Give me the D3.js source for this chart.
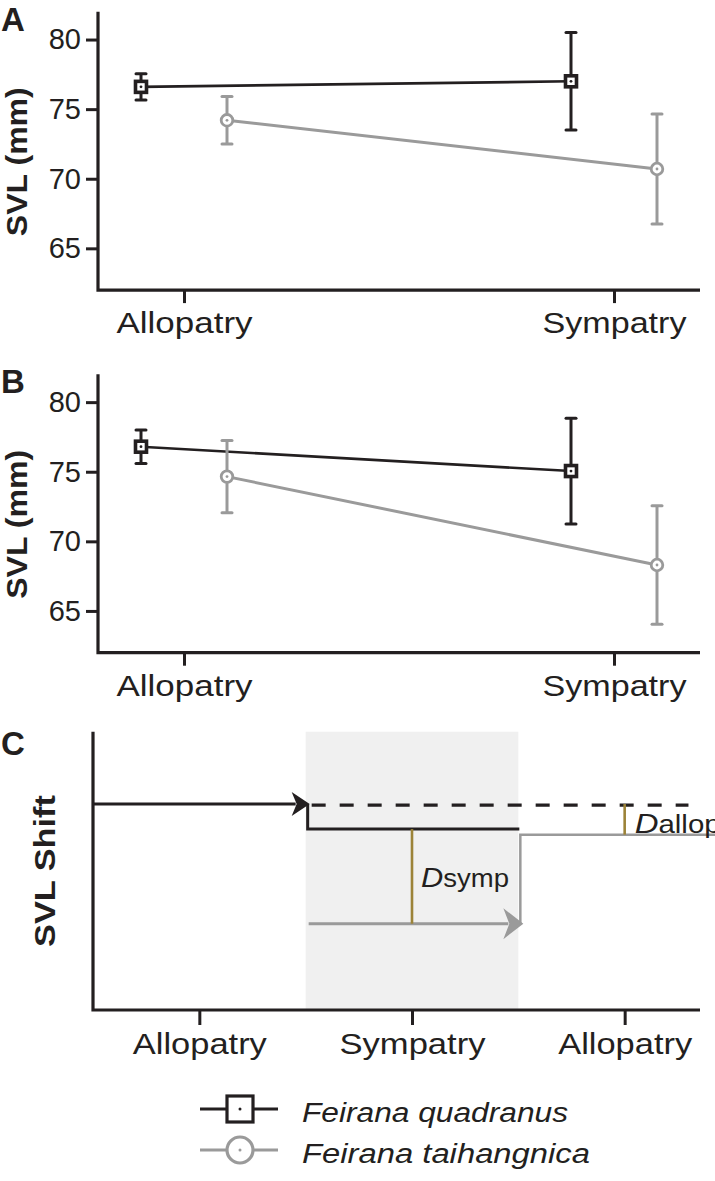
<!DOCTYPE html>
<html>
<head>
<meta charset="utf-8">
<script src="https://cdn.jsdelivr.net/npm/d3@7"></script>
<style>
body { margin: 0; background: #fff; }
text { font-family: "Liberation Sans", Arial, sans-serif; fill: #231f20; }
</style>
</head>
<body>
<div></div>
<script>
let groups = ["Allopatry", "Sympatry"];
let species = ["Feirana quadranus", "Feirana taihangnica"];
let yTicks = [65, 70, 75, 80];

// panel A: mean SVL and error
let meanA_quad = [76.6, 77.0];
let errA_quad = [0.95, 3.5];
let meanA_taih = [74.2, 70.7];
let errA_taih = [1.7, 3.95];

// panel B
let meanB_quad = [76.8, 75.05];
let errB_quad = [1.2, 3.8];
let meanB_taih = [74.65, 68.3];
let errB_taih = [2.6, 4.25];

// panel C (schematic shift)
let shiftGroups = ["Allopatry", "Sympatry", "Allopatry"];
let shiftQuad = [7.4, 6.5];   // allopatric level, sympatric level
let shiftTaih = [3.1, 6.3];   // sympatric level, allopatric level

let black = "#231f20", grey = "#9a9a9a", gold = "#9c8338";

let svg = d3.select("div")
    .append("svg")
    .attr("width", 715)
    .attr("height", 1181);

function drawPanel(top, letter, quad, quadErr, taih, taihErr) {
    let bottom = top + 278.4;
    let axisX = 98;
    let Y = d3.scaleLinear().domain([62, 82]).range([bottom, top]);
    let X = d3.scalePoint().domain(groups).range([184, 614]);
    let dodge = 43;

    let series = [
        { name: species[0], color: black, off: -dodge, shape: "square",
          values: groups.map((g, i) => ({ g: g, m: quad[i], e: quadErr[i] })) },
        { name: species[1], color: grey, off: dodge, shape: "circle",
          values: groups.map((g, i) => ({ g: g, m: taih[i], e: taihErr[i] })) }
    ];

    let g = svg.append("g");

    // axes
    let yAxis = g.append("g")
        .attr("transform", "translate(" + axisX + ",0)")
        .call(d3.axisLeft(Y).tickValues(yTicks).tickSize(12).tickPadding(5));
    let xAxis = g.append("g")
        .attr("transform", "translate(0," + bottom + ")")
        .call(d3.axisBottom(X).tickSize(13).tickPadding(9));
    [yAxis, xAxis].forEach(a => {
        a.select(".domain").remove();
        a.selectAll("line").attr("stroke", black).attr("stroke-width", 3);
    });
    yAxis.selectAll("text").attr("font-size", 29).attr("fill", black);
    xAxis.selectAll("text")
        .attr("font-size", 30)
        .attr("fill", black)
        .attr("textLength", d => d == "Allopatry" ? 136 : 144)
        .attr("lengthAdjust", "spacingAndGlyphs");
    g.append("path")
        .attr("d", "M" + axisX + "," + top + "V" + bottom + "H700")
        .attr("fill", "none")
        .attr("stroke", black)
        .attr("stroke-width", 3.2);

    // y label + panel letter
    g.append("text")
        .attr("transform", "translate(27," + (top + 150) + ") rotate(-90)")
        .attr("text-anchor", "middle")
        .attr("font-size", 29)
        .attr("font-weight", "bold")
        .attr("textLength", 149)
        .attr("lengthAdjust", "spacingAndGlyphs")
        .text("SVL (mm)");
    g.append("text")
        .attr("x", 1)
        .attr("y", top + 19)
        .attr("font-size", 33)
        .attr("font-weight", "bold")
        .text(letter);

    let line = d3.line().x(d => X(d.g)).y(d => Y(d.m));

    series.forEach(s => {
        let sg = g.append("g").attr("transform", "translate(" + s.off + ",0)");
        sg.append("path")
            .attr("d", line(s.values))
            .attr("fill", "none")
            .attr("stroke", s.color)
            .attr("stroke-width", s.shape == "square" ? 2.6 : 3);

        let eb = sg.selectAll(".eb")
            .data(s.values)
            .enter()
            .append("g");
        eb.append("line")
            .attr("x1", d => X(d.g)).attr("x2", d => X(d.g))
            .attr("y1", d => Y(d.m - d.e)).attr("y2", d => Y(d.m + d.e))
            .attr("stroke", s.color).attr("stroke-width", 3);
        [-1, 1].forEach(sign => {
            eb.append("line")
                .attr("x1", d => X(d.g) - 5).attr("x2", d => X(d.g) + 5)
                .attr("y1", d => Y(d.m + sign * d.e)).attr("y2", d => Y(d.m + sign * d.e))
                .attr("stroke", s.color).attr("stroke-width", 3)
                .attr("stroke-linecap", "round");
        });
        if (s.shape == "square") {
            eb.append("rect")
                .attr("x", d => X(d.g) - 5.5).attr("y", d => Y(d.m) - 5.5)
                .attr("width", 11).attr("height", 11)
                .attr("fill", "#fff").attr("stroke", s.color).attr("stroke-width", 3.6);
        } else {
            eb.append("circle")
                .attr("cx", d => X(d.g)).attr("cy", d => Y(d.m))
                .attr("r", 5.8)
                .attr("fill", "#fff").attr("stroke", s.color).attr("stroke-width", 2.8);
        }
        eb.append("circle")
            .attr("cx", d => X(d.g)).attr("cy", d => Y(d.m))
            .attr("r", 1.4)
            .attr("fill", s.color);
    });
}

drawPanel(11.7, "A", meanA_quad, errA_quad, meanA_taih, errA_taih);
drawPanel(374.3, "B", meanB_quad, errB_quad, meanB_taih, errB_taih);

// ---------- panel C ----------
let XC = d3.scaleLinear().domain([0, 3]).range([93, 731]);
let YC = d3.scaleLinear().domain([0, 10]).range([1010, 731.7]);
let gc = svg.append("g");

gc.append("rect")
    .attr("x", XC(1)).attr("y", YC(10))
    .attr("width", XC(2) - XC(1)).attr("height", YC(0) - YC(10))
    .attr("fill", "#f0f0f0");

let xAxisC = gc.append("g")
    .attr("transform", "translate(0," + YC(0) + ")")
    .call(d3.axisBottom(XC).tickValues([0.5, 1.5, 2.5]).tickSize(15).tickPadding(8)
        .tickFormat((d, i) => shiftGroups[i]));
xAxisC.select(".domain").remove();
xAxisC.selectAll("line").attr("stroke", black).attr("stroke-width", 3);
xAxisC.selectAll("text")
    .attr("font-size", 30)
    .attr("fill", black)
    .attr("textLength", (d, i) => i == 1 ? 146 : 134)
    .attr("lengthAdjust", "spacingAndGlyphs");
gc.append("path")
    .attr("d", "M" + XC(0) + "," + YC(10) + "V" + YC(0) + "H700")
    .attr("fill", "none")
    .attr("stroke", black)
    .attr("stroke-width", 3.2);

gc.append("text")
    .attr("transform", "translate(55," + 871 + ") rotate(-90)")
    .attr("text-anchor", "middle")
    .attr("font-size", 30)
    .attr("font-weight", "bold")
    .attr("textLength", 152)
    .attr("lengthAdjust", "spacingAndGlyphs")
    .text("SVL Shift");
gc.append("text")
    .attr("x", 1).attr("y", 755)
    .attr("font-size", 33)
    .attr("font-weight", "bold")
    .text("C");

function arrowHead(tipX, y, len, half, notch, color) {
    gc.append("path")
        .attr("d", "M" + tipX + "," + y +
            "L" + (tipX - len) + "," + (y - half) +
            "L" + (tipX - len + notch) + "," + y +
            "L" + (tipX - len) + "," + (y + half) + "Z")
        .attr("fill", color);
}

// F. quadranus: allopatric level, dashed expectation, sympatric drop
gc.append("line")
    .attr("x1", XC(0)).attr("x2", XC(1) - 10)
    .attr("y1", YC(shiftQuad[0])).attr("y2", YC(shiftQuad[0]))
    .attr("stroke", black).attr("stroke-width", 3);
arrowHead(XC(1) + 4, YC(shiftQuad[0]), 18, 12, 5, black);
gc.append("line")
    .attr("x1", XC(1) + 6).attr("x2", XC(2.8))
    .attr("y1", YC(shiftQuad[0]) + 1).attr("y2", YC(shiftQuad[0]) + 1)
    .attr("stroke", black).attr("stroke-width", 3.2)
    .attr("stroke-dasharray", "14,14");
gc.append("path")
    .attr("d", "M" + (XC(1) + 2) + "," + YC(shiftQuad[0]) + "V" + YC(shiftQuad[1]) + "H" + (XC(2) + 1))
    .attr("fill", "none")
    .attr("stroke", black).attr("stroke-width", 3);

// F. taihangnica: sympatric level then allopatric
gc.append("line")
    .attr("x1", XC(1) + 3).attr("x2", XC(2) - 10)
    .attr("y1", YC(shiftTaih[0])).attr("y2", YC(shiftTaih[0]))
    .attr("stroke", grey).attr("stroke-width", 3);
arrowHead(XC(2) + 5, YC(shiftTaih[0]), 20, 15.5, 6, grey);
gc.append("path")
    .attr("d", "M" + (XC(2) + 2) + "," + YC(shiftTaih[0]) + "V" + YC(shiftTaih[1]) + "H" + XC(2.94))
    .attr("fill", "none")
    .attr("stroke", grey).attr("stroke-width", 2.5);

// distances
gc.append("line")
    .attr("x1", XC(1.5)).attr("x2", XC(1.5))
    .attr("y1", YC(shiftQuad[1])).attr("y2", YC(shiftTaih[0]))
    .attr("stroke", gold).attr("stroke-width", 2.6);
gc.append("line")
    .attr("x1", XC(2.5)).attr("x2", XC(2.5))
    .attr("y1", YC(shiftQuad[0])).attr("y2", YC(shiftTaih[1]))
    .attr("stroke", gold).attr("stroke-width", 2.6);

let dSym = gc.append("text")
    .attr("x", XC(1.5) + 9).attr("y", 887)
    .attr("font-size", 25)
    .attr("textLength", 88)
    .attr("lengthAdjust", "spacingAndGlyphs");
dSym.append("tspan").attr("font-style", "italic").attr("font-size", 28).text("D");
dSym.append("tspan").text("symp");

let dAllo = gc.append("text")
    .attr("x", XC(2.5) + 10).attr("y", 833)
    .attr("font-size", 25)
    .attr("textLength", 86)
    .attr("lengthAdjust", "spacingAndGlyphs");
dAllo.append("tspan").attr("font-style", "italic").attr("font-size", 28).text("D");
dAllo.append("tspan").text("allop");

// ---------- legend ----------
let legend = svg.append("g");
let legendRows = [
    { name: species[0], color: black, shape: "square", y: 1109, len: 266 },
    { name: species[1], color: grey, shape: "circle", y: 1150, len: 288 }
];
legendRows.forEach(r => {
    legend.append("line")
        .attr("x1", 200).attr("x2", 278)
        .attr("y1", r.y).attr("y2", r.y)
        .attr("stroke", r.color).attr("stroke-width", 3);
    if (r.shape == "square") {
        legend.append("rect")
            .attr("x", 227).attr("y", r.y - 13)
            .attr("width", 26).attr("height", 26)
            .attr("fill", "#fff").attr("stroke", r.color).attr("stroke-width", 3.2);
    } else {
        legend.append("circle")
            .attr("cx", 240).attr("cy", r.y).attr("r", 13)
            .attr("fill", "#fff").attr("stroke", r.color).attr("stroke-width", 3.2);
    }
    legend.append("circle")
        .attr("cx", 240).attr("cy", r.y).attr("r", 1.5)
        .attr("fill", r.color);
    legend.append("text")
        .attr("x", 302).attr("y", r.y + 13)
        .attr("font-size", 27)
        .attr("font-style", "italic")
        .attr("textLength", r.len)
        .attr("lengthAdjust", "spacingAndGlyphs")
        .text(r.name);
});
</script>
</body>
</html>
